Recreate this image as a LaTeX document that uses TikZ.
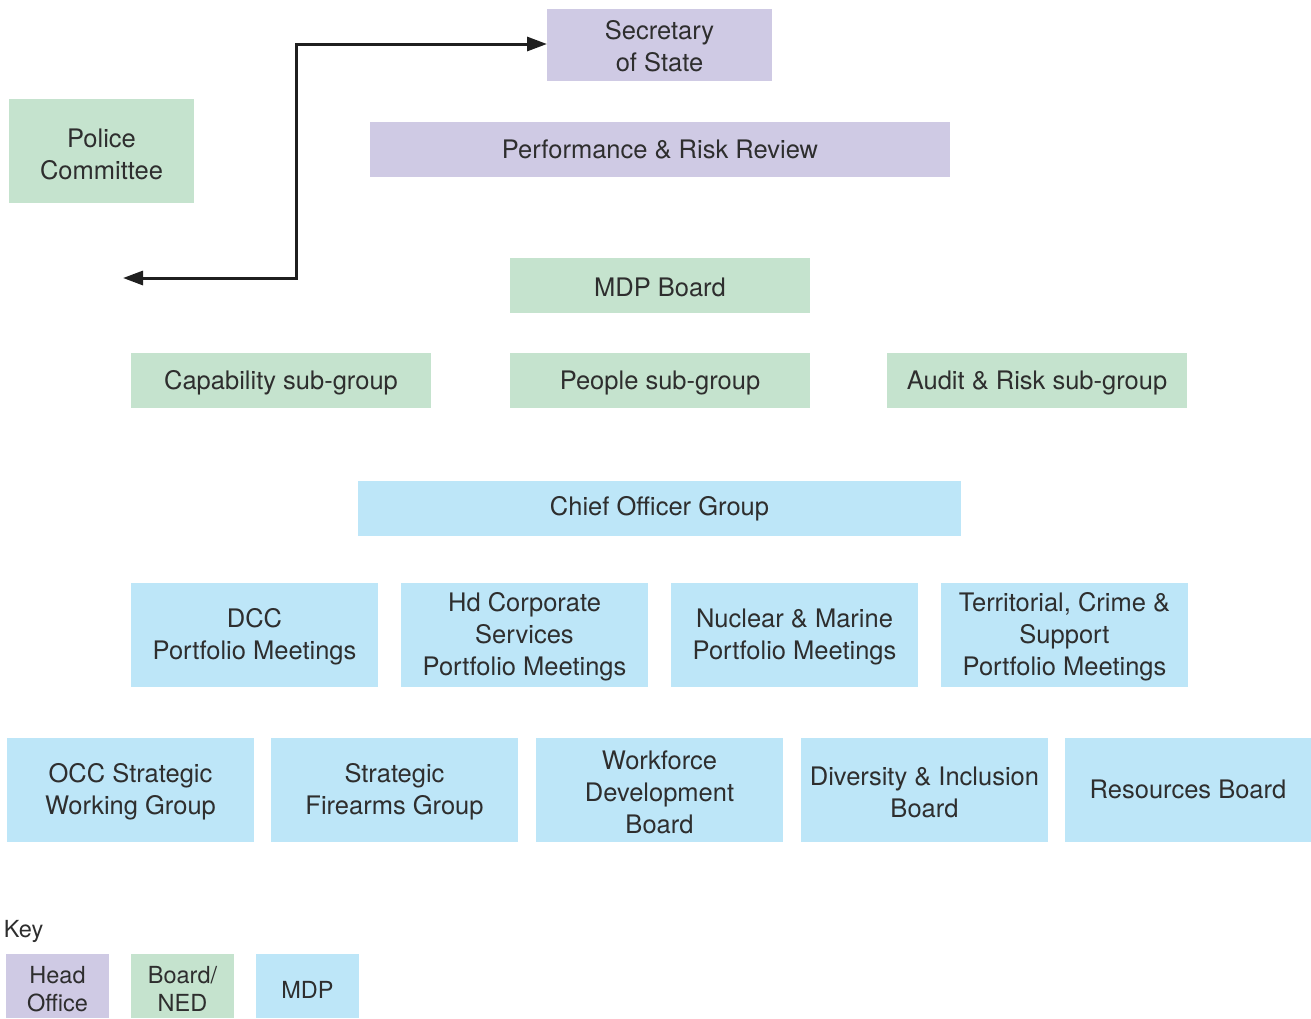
\documentclass[tikz,border=0pt]{standalone}
\usepackage{fontspec}
\setmainfont{TeX Gyre Heros}
\usetikzlibrary{arrows.meta}
\definecolor{ho}{HTML}{CFCAE4}
\definecolor{bd}{HTML}{C5E3CE}
\definecolor{md}{HTML}{BDE6F8}
\definecolor{tx}{HTML}{2E2E2E}
\begin{document}
\begin{tikzpicture}[x=1pt,y=-1pt,
  box/.style={inner sep=0pt,outer sep=0pt,text=tx,align=center,
    font=\fontsize{25.5}{32}\selectfont},
  keybox/.style={box,font=\fontsize{23.5}{28}\selectfont},
  conn/.style={line width=3pt,draw=black!88,{Triangle[length=20pt,width=14pt]}-{Triangle[length=20pt,width=14pt]}}]
\useasboundingbox (0,0) rectangle (1311,1018);
% boxes
\fill[ho] (547,9) rectangle (772,81);
\coordinate (sosin) at (547,44);
\node[box] (sos) at (659.5,46) {Secretary\\of State};
\fill[ho] (370,122) rectangle (950,177);
\node[box] (prr) at (660,149.5) {Performance \& Risk Review};
\fill[bd] (9,99) rectangle (194,203);
\node[box] (pc) at (101.5,154) {Police\\Committee};
\fill[bd] (510,258) rectangle (810,313);
\node[box] (mdpb) at (660,287) {MDP Board};
\fill[bd] (131,353) rectangle (431,408);
\node[box] (cap) at (281,383) {Capability sub-group};
\fill[bd] (510,353) rectangle (810,408);
\node[box] (ppl) at (660,383) {People sub-group};
\fill[bd] (887,353) rectangle (1187,408);
\node[box] (arg) at (1037,383) {Audit \& Risk sub-group};
\fill[md] (358,481) rectangle (961,536);
\node[box] (cog) at (659.5,509) {Chief Officer Group};
\fill[md] (131,583) rectangle (378,687);
\node[box] (dcc) at (254.5,637) {DCC\\Portfolio Meetings};
\fill[md] (401,583) rectangle (648,687);
\node[box] (hcs) at (524.5,637) {Hd Corporate\\Services\\Portfolio Meetings};
\fill[md] (671,583) rectangle (918,687);
\node[box] (nm) at (794.5,637) {Nuclear \& Marine\\Portfolio Meetings};
\fill[md] (941,583) rectangle (1188,687);
\node[box] (tcs) at (1064.5,637) {Territorial, Crime \&\\Support\\Portfolio Meetings};
\fill[md] (7,738) rectangle (254,842);
\node[box] (occ) at (130.5,792) {OCC Strategic\\Working Group};
\fill[md] (271,738) rectangle (518,842);
\node[box] (sfg) at (394.5,792) {Strategic\\Firearms Group};
\fill[md] (536,738) rectangle (783,842);
\node[box] (wdb) at (659.5,792) {Workforce\\Development\\Board};
\fill[md] (801,738) rectangle (1048,842);
\node[box] (dib) at (924.5,792) {Diversity \& Inclusion\\Board};
\fill[md] (1065,738) rectangle (1311,842);
\node[box] (rb) at (1188,789) {Resources Board};
% key
\node[keybox,anchor=west] (key) at (4,931) {Key};
\fill[ho] (6,954) rectangle (109,1018);
\node[keybox] (kho) at (57.5,989) {Head\\Office};
\fill[bd] (131,954) rectangle (234,1018);
\node[keybox] (kbd) at (182.5,989) {Board/\\NED};
\fill[md] (256,954) rectangle (359,1018);
\node[keybox] (kmd) at (307.5,990) {MDP};
% connector
\coordinate (free) at (123,278);
\draw[conn] (free) -- (296,278) |- (sosin);
\end{tikzpicture}
\end{document}
